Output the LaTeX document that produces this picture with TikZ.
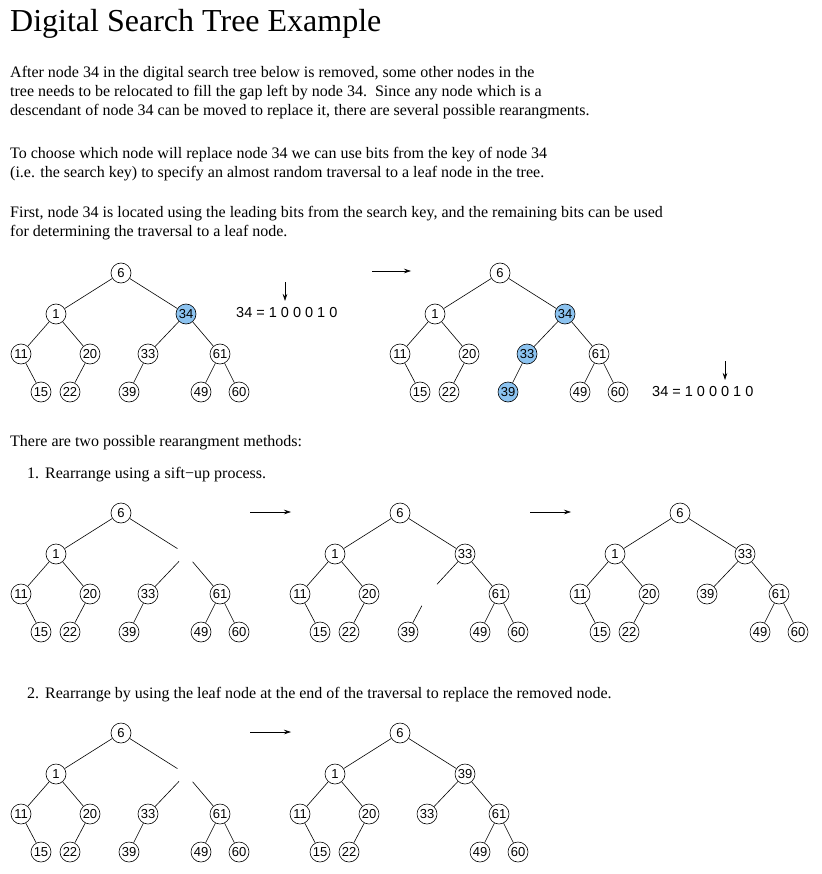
\documentclass[tikz,border=0pt]{standalone}
\usepackage{fontspec}
\setmainfont{Liberation Serif}
\newfontfamily\nodefont{Liberation Sans}
\usetikzlibrary{arrows.meta}
\definecolor{hl}{RGB}{140,195,240}
\tikzset{
  tn/.style={circle, draw, line width=0.6pt, minimum size=20pt, inner sep=0pt,
             font=\nodefont\fontsize{13}{13}\selectfont},
  hn/.style={tn, fill=hl},
  gn/.style={circle, minimum size=20pt, inner sep=0pt},
  ln/.style={line width=0.6pt},
  txt/.style={anchor=base west, inner sep=0pt, font=\fontsize{16}{16}\selectfont},
  ttl/.style={anchor=base west, inner sep=0pt, font=\fontsize{32}{32}\selectfont},
  bits/.style={anchor=west, inner sep=0pt, font=\nodefont\fontsize{14.5}{14.5}\selectfont},
  harr/.style={line width=0.6pt, -{Stealth[length=7pt,width=4.5pt]}},
  varr/.style={line width=0.6pt, -{Stealth[length=7pt,width=4.5pt]}},
}
\begin{document}
\begin{tikzpicture}[x=1pt,y=-1pt]
\useasboundingbox (0,0) rectangle (821,874);

% ---------- texts ----------
\node[ttl] (title) at (10,32) {Digital Search Tree Example};
\node[txt] (p1) at (10,78) {After node 34 in the digital search tree below is removed, some other nodes in the};
\node[txt] (p2) at (10,97) {tree needs to be relocated to fill the gap left by node 34.\ \ Since any node which is a};
\node[txt] (p3) at (10,116) {descendant of node 34 can be moved to replace it, there are several possible rearangments.};
\node[txt] (p4) at (10,159) {To choose which node will replace node 34 we can use bits from the key of node 34};
\node[txt] (p5) at (10,178) {(i.e. the search key) to specify an almost random traversal to a leaf node in the tree.};
\node[txt] (p6) at (10,218) {First, node 34 is located using the leading bits from the search key, and the remaining bits can be used};
\node[txt] (p7) at (10,237) {for determining the traversal to a leaf node.};
\node[txt] (p8) at (10,446) {There are two possible rearangment methods:};
\node[txt] (n1) at (27,478) {1.};
\node[txt] (m1) at (45,478) {Rearrange using a sift\char"2212 up process.};
\node[txt] (n2) at (27,698) {2.};
\node[txt] (m2) at (45,698) {Rearrange by using the leaf node at the end of the traversal to replace the removed node.};

% ---------- tree A ----------
\begin{scope}[shift={(121,273)}]
\node[tn] (a6) at (0,0) {6};
\node[tn] (a1) at (-65,41) {1};
\node[hn] (a34) at (65,41) {34};
\node[tn] (a11) at (-100,81) {11};
\node[tn] (a20) at (-31,81) {20};
\node[tn] (a33) at (27,81) {33};
\node[tn] (a61) at (99,81) {61};
\node[tn] (a15) at (-80,119) {15};
\node[tn] (a22) at (-51,119) {22};
\node[tn] (a39) at (8,119) {39};
\node[tn] (a49) at (80,119) {49};
\node[tn] (a60) at (118,119) {60};
\draw[ln] (a6)--(a1) (a6)--(a34) (a1)--(a11) (a1)--(a20) (a34)--(a33) (a34)--(a61)
          (a11)--(a15) (a20)--(a22) (a33)--(a39) (a61)--(a49) (a61)--(a60);
\end{scope}

% bits 1
\node[bits] (k1) at (236,313) {34 = 1 0 0 0 1 0};
\coordinate (k1s) at (285,282);
\coordinate (k1e) at (285,301);
\draw[varr] (k1s)--(k1e);

% arrow A->B
\coordinate (h1s) at (372,271);
\coordinate (h1e) at (411,271);
\draw[harr] (h1s)--(h1e);

% ---------- tree B ----------
\begin{scope}[shift={(500,273)}]
\node[tn] (b6) at (0,0) {6};
\node[tn] (b1) at (-65,41) {1};
\node[hn] (b34) at (65,41) {34};
\node[tn] (b11) at (-100,81) {11};
\node[tn] (b20) at (-31,81) {20};
\node[hn] (b33) at (27,81) {33};
\node[tn] (b61) at (99,81) {61};
\node[tn] (b15) at (-80,119) {15};
\node[tn] (b22) at (-51,119) {22};
\node[hn] (b39) at (8,119) {39};
\node[tn] (b49) at (80,119) {49};
\node[tn] (b60) at (118,119) {60};
\draw[ln] (b6)--(b1) (b6)--(b34) (b1)--(b11) (b1)--(b20) (b34)--(b33) (b34)--(b61)
          (b11)--(b15) (b20)--(b22) (b33)--(b39) (b61)--(b49) (b61)--(b60);
\end{scope}

% bits 2
\node[bits] (k2) at (652,392) {34 = 1 0 0 0 1 0};
\coordinate (k2s) at (725,361);
\coordinate (k2e) at (725,380);
\draw[varr] (k2s)--(k2e);

% ---------- tree C ----------
\begin{scope}[shift={(121,513)}]
\node[tn] (c6) at (0,0) {6};
\node[tn] (c1) at (-65,41) {1};
\node[gn] (cg) at (65,41) {};
\node[tn] (c11) at (-100,81) {11};
\node[tn] (c20) at (-31,81) {20};
\node[tn] (c33) at (27,81) {33};
\node[tn] (c61) at (99,81) {61};
\node[tn] (c15) at (-80,119) {15};
\node[tn] (c22) at (-51,119) {22};
\node[tn] (c39) at (8,119) {39};
\node[tn] (c49) at (80,119) {49};
\node[tn] (c60) at (118,119) {60};
\draw[ln] (c6)--(c1) (c6)--(cg) (c1)--(c11) (c1)--(c20) (cg)--(c33) (cg)--(c61)
          (c11)--(c15) (c20)--(c22) (c33)--(c39) (c61)--(c49) (c61)--(c60);
\end{scope}

\coordinate (h2s) at (250,512);
\coordinate (h2e) at (291,512);
\draw[harr] (h2s)--(h2e);

% ---------- tree D ----------
\begin{scope}[shift={(400,513)}]
\node[tn] (d6) at (0,0) {6};
\node[tn] (d1) at (-65,41) {1};
\node[tn] (d33) at (65,41) {33};
\node[tn] (d11) at (-100,81) {11};
\node[tn] (d20) at (-31,81) {20};
\node[gn, minimum size=26pt] (dg) at (28,81) {};
\node[tn] (d61) at (99,81) {61};
\node[tn] (d15) at (-80,119) {15};
\node[tn] (d22) at (-51,119) {22};
\node[tn] (d39) at (8,119) {39};
\node[tn] (d49) at (80,119) {49};
\node[tn] (d60) at (118,119) {60};
\draw[ln] (d6)--(d1) (d6)--(d33) (d1)--(d11) (d1)--(d20) (d33)--(dg) (d33)--(d61)
          (d11)--(d15) (d20)--(d22) (dg)--(d39) (d61)--(d49) (d61)--(d60);
\end{scope}

\coordinate (h3s) at (530,512);
\coordinate (h3e) at (571,512);
\draw[harr] (h3s)--(h3e);

% ---------- tree E ----------
\begin{scope}[shift={(680,513)}]
\node[tn] (e6) at (0,0) {6};
\node[tn] (e1) at (-65,41) {1};
\node[tn] (e33) at (65,41) {33};
\node[tn] (e11) at (-100,81) {11};
\node[tn] (e20) at (-31,81) {20};
\node[tn] (e39) at (27,81) {39};
\node[tn] (e61) at (99,81) {61};
\node[tn] (e15) at (-80,119) {15};
\node[tn] (e22) at (-51,119) {22};
\node[tn] (e49) at (80,119) {49};
\node[tn] (e60) at (118,119) {60};
\draw[ln] (e6)--(e1) (e6)--(e33) (e1)--(e11) (e1)--(e20) (e33)--(e39) (e33)--(e61)
          (e11)--(e15) (e20)--(e22) (e61)--(e49) (e61)--(e60);
\end{scope}

% ---------- tree F ----------
\begin{scope}[shift={(121,733)}]
\node[tn] (f6) at (0,0) {6};
\node[tn] (f1) at (-65,41) {1};
\node[gn] (fg) at (65,41) {};
\node[tn] (f11) at (-100,81) {11};
\node[tn] (f20) at (-31,81) {20};
\node[tn] (f33) at (27,81) {33};
\node[tn] (f61) at (99,81) {61};
\node[tn] (f15) at (-80,119) {15};
\node[tn] (f22) at (-51,119) {22};
\node[tn] (f39) at (8,119) {39};
\node[tn] (f49) at (80,119) {49};
\node[tn] (f60) at (118,119) {60};
\draw[ln] (f6)--(f1) (f6)--(fg) (f1)--(f11) (f1)--(f20) (fg)--(f33) (fg)--(f61)
          (f11)--(f15) (f20)--(f22) (f33)--(f39) (f61)--(f49) (f61)--(f60);
\end{scope}

\coordinate (h4s) at (250,732);
\coordinate (h4e) at (291,732);
\draw[harr] (h4s)--(h4e);

% ---------- tree G ----------
\begin{scope}[shift={(400,733)}]
\node[tn] (g6) at (0,0) {6};
\node[tn] (g1) at (-65,41) {1};
\node[tn] (g39) at (65,41) {39};
\node[tn] (g11) at (-100,81) {11};
\node[tn] (g20) at (-31,81) {20};
\node[tn] (g33) at (27,81) {33};
\node[tn] (g61) at (99,81) {61};
\node[tn] (g15) at (-80,119) {15};
\node[tn] (g22) at (-51,119) {22};
\node[tn] (g49) at (80,119) {49};
\node[tn] (g60) at (118,119) {60};
\draw[ln] (g6)--(g1) (g6)--(g39) (g1)--(g11) (g1)--(g20) (g39)--(g33) (g39)--(g61)
          (g11)--(g15) (g20)--(g22) (g61)--(g49) (g61)--(g60);
\end{scope}
\end{tikzpicture}
\end{document}
